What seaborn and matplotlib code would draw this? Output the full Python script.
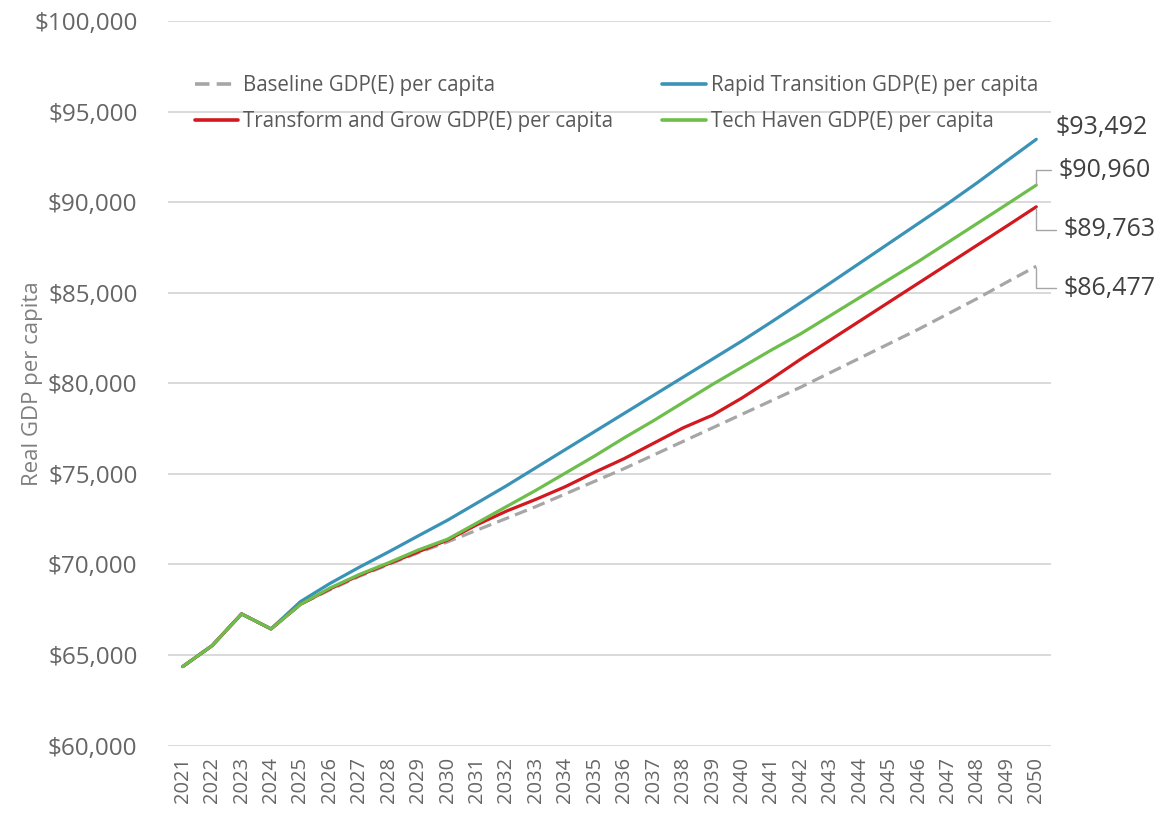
import matplotlib
matplotlib.use("Agg")
import matplotlib.pyplot as plt
import seaborn as sns
import pandas as pd
from matplotlib.ticker import FuncFormatter, FixedLocator
from matplotlib.lines import Line2D

years = list(range(2021, 2051))

baseline = [64360, 65520, 67270, 66440, 67800, 68600, 69350, 70000, 70650, 71250,
            71900, 72550, 73200, 73900, 74600, 75300, 76050, 76800, 77550, 78300,
            79050, 79800, 80600, 81400, 82200, 83000, 83850, 84700, 85600, 86477]
rapid = [64360, 65520, 67270, 66440, 67950, 68950, 69850, 70700, 71580, 72450,
         73400, 74350, 75350, 76350, 77350, 78350, 79350, 80350, 81350, 82350,
         83400, 84470, 85550, 86650, 87750, 88850, 89950, 91100, 92300, 93492]
transform = [64360, 65520, 67270, 66440, 67800, 68650, 69400, 70050, 70700, 71350,
             72200, 72950, 73600, 74300, 75100, 75850, 76700, 77550, 78250, 79200,
             80250, 81350, 82400, 83450, 84500, 85550, 86600, 87650, 88700, 89763]
tech = [64360, 65520, 67270, 66440, 67800, 68700, 69450, 70100, 70800, 71400,
        72300, 73200, 74100, 75050, 76000, 77000, 77950, 78950, 79950, 80900,
        81850, 82750, 83750, 84750, 85750, 86750, 87800, 88850, 89900, 90960]

series_names = ["Baseline GDP(E) per capita", "Rapid Transition GDP(E) per capita",
                "Transform and Grow GDP(E) per capita", "Tech Haven GDP(E) per capita"]
series_values = [baseline, rapid, transform, tech]
series_colors = ["#A6A6A6", "#3A93B6", "#D2191F", "#6DBE4B"]

y_ticks = [60000, 65000, 70000, 75000, 80000, 85000, 90000, 95000, 100000]
y_label = "Real GDP per capita"

sns.set_theme(style="white")
plt.rcParams["font.family"] = ["Open Sans", "DejaVu Sans"]

fig = plt.figure(figsize=(11.73, 8.13), dpi=100)
ax = fig.add_axes([168 / 1173, 1 - 745.5 / 813, 883 / 1173, 724 / 813])

df = pd.DataFrame({"year": years})
for name, vals in zip(series_names, series_values):
    df[name] = vals
long = df.melt(id_vars="year", var_name="series", value_name="value")

palette = dict(zip(series_names, series_colors))
dashes = {n: (4, 2) if n.startswith("Baseline") else "" for n in series_names}
sns.lineplot(data=long, x="year", y="value", hue="series", style="series",
             palette=palette, dashes=dashes, linewidth=2.3, ax=ax,
             hue_order=series_names, style_order=series_names, legend=False)

ax.set_xlim(2020.5, 2050.5)
ax.set_ylim(60000, 100000)
ax.yaxis.set_major_locator(FixedLocator(y_ticks))
ax.yaxis.set_major_formatter(FuncFormatter(lambda v, p: f"${v:,.0f}"))
ax.set_xticks(years)
ax.set_xticklabels([str(y) for y in years], rotation=90)
ax.grid(axis="y", color="#D9D9D9", linewidth=1.4)
ax.grid(axis="x", visible=False)
for s in ax.spines.values():
    s.set_visible(False)
ax.tick_params(axis="both", length=0, colors="#666666")
ax.tick_params(axis="y", labelsize=17.5, pad=22)
ax.tick_params(axis="x", labelsize=14.5, pad=8)
ax.set_xlabel("")
ax.set_ylabel(y_label, fontsize=16, color="#7F7F7F")
ax.yaxis.set_label_coords(-0.141, 0.5)

# Legend: two columns, top-left inside the plot
order = [0, 2, 1, 3]
handles = [Line2D([], [], color=series_colors[i], lw=2.6,
                  linestyle=(0, (4, 2)) if i == 0 else "-") for i in order]
labels = [series_names[i] for i in order]
leg = ax.legend(handles, labels, ncol=2, loc="upper left",
                bbox_to_anchor=(0.021, 0.937), frameon=False,
                fontsize=14.8, handlelength=2.1, handletextpad=0.25,
                columnspacing=2.4, labelspacing=0.72, borderaxespad=0)
for t in leg.get_texts():
    t.set_color("#595959")

# End-of-line value labels with leader lines
label_offsets = {
    1: (19, 12, None),
    3: (22, 15, "angle,angleA=0,angleB=90,rad=0"),
    2: (27, -23, "angle,angleA=0,angleB=90,rad=0"),
    0: (27, -22, "angle,angleA=0,angleB=90,rad=0"),
}
for i, (dx, dy, conn) in label_offsets.items():
    v = series_values[i][-1]
    kw = {}
    if conn:
        kw["arrowprops"] = dict(arrowstyle="-", color="#A6A6A6", lw=1.0,
                                connectionstyle=conn, relpos=(0, 0.5),
                                shrinkA=3, shrinkB=1)
    ax.annotate(f"${v:,.0f}", xy=(years[-1], v), xytext=(dx, dy),
                textcoords="offset pixels", ha="left", va="center",
                fontsize=18, color="#404040", annotation_clip=False, **kw)

fig.savefig("out.png", dpi=100)
